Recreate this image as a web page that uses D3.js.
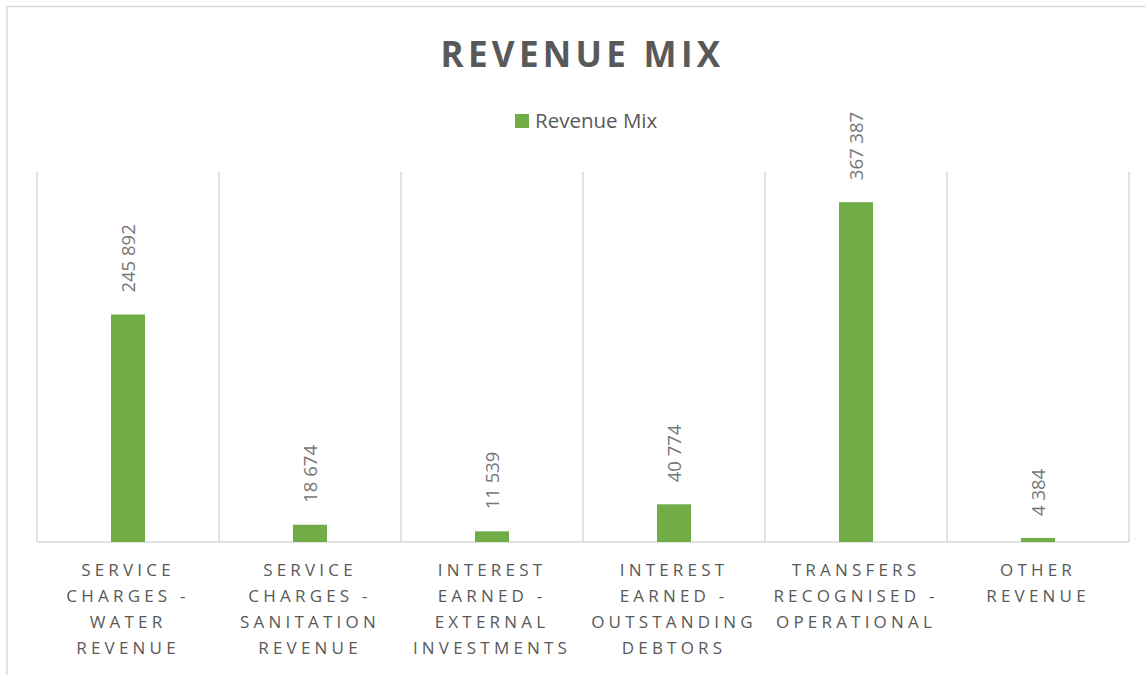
<!DOCTYPE html>
<html lang="en">
<head>
    <meta charset="UTF-8">
    <title>Revenue Mix</title>
    <script src="https://d3js.org/d3.v7.min.js"></script>
    <style>
        body {
            margin: 0;
            background: #fff;
            font-family: "Open Sans", sans-serif;
        }
        .tick-label {
            font-size: 17px;
            fill: #595959;
            letter-spacing: 4.2px;
        }
    </style>
</head>
<body>
    <div id="chart"></div>

    <script>
        // Data
        const categories = [
            "Service Charges - Water Revenue",
            "Service Charges - Sanitation Revenue",
            "Interest Earned - External Investments",
            "Interest Earned - Outstanding Debtors",
            "Transfers Recognised - Operational",
            "Other Revenue"
        ];
        const tickLines = [
            ["SERVICE", "CHARGES -", "WATER", "REVENUE"],
            ["SERVICE", "CHARGES -", "SANITATION", "REVENUE"],
            ["INTEREST", "EARNED -", "EXTERNAL", "INVESTMENTS"],
            ["INTEREST", "EARNED -", "OUTSTANDING", "DEBTORS"],
            ["TRANSFERS", "RECOGNISED -", "OPERATIONAL"],
            ["OTHER", "REVENUE"]
        ];
        const values = [245892, 18674, 11539, 40774, 367387, 4384];
        const seriesName = "Revenue Mix";

        const W = 1145, H = 675;
        const margin = { top: 172, right: 16, bottom: 133, left: 37 };
        const width = W - margin.left - margin.right;
        const height = H - margin.top - margin.bottom;

        const svg = d3.select("#chart")
            .append("svg")
            .attr("width", W)
            .attr("height", H);

        // chart frame (cropped at right/bottom)
        svg.append("line").attr("x1", 7).attr("x2", W).attr("y1", 6.5).attr("y2", 6.5)
            .attr("stroke", "#d9d9d9").attr("stroke-width", 1.5);
        svg.append("line").attr("x1", 7).attr("x2", 7).attr("y1", 6).attr("y2", H)
            .attr("stroke", "#d9d9d9").attr("stroke-width", 1.5);

        // Title
        svg.append("text")
            .attr("x", W / 2 + 10)
            .attr("y", 67)
            .attr("text-anchor", "middle")
            .style("font-size", "35px")
            .style("font-weight", "bold")
            .style("letter-spacing", "4.3px")
            .style("fill", "#595959")
            .text("REVENUE MIX");

        // Legend
        const legend = svg.append("g").attr("transform", "translate(515,114)");
        legend.append("rect").attr("width", 14).attr("height", 14).attr("fill", "#70ad47");
        legend.append("text").attr("x", 20).attr("y", 14)
            .style("font-size", "20.5px").style("fill", "#595959")
            .text(seriesName);

        const g = svg.append("g")
            .attr("transform", `translate(${margin.left},${margin.top})`);

        const x = d3.scaleBand()
            .domain(categories)
            .range([0, width])
            .paddingInner(0)
            .paddingOuter(0);

        const y = d3.scaleLinear()
            .domain([0, 400000])
            .range([height, 0]);

        // vertical grid lines at category boundaries
        const bounds = categories.map(c => x(c)).concat([width]);
        g.selectAll(".vgrid")
            .data(bounds)
            .enter()
            .append("line")
            .attr("class", "vgrid")
            .attr("x1", d => d).attr("x2", d => d)
            .attr("y1", 0).attr("y2", height)
            .attr("stroke", "#d9d9d9")
            .attr("stroke-width", 1.5);

        // baseline
        g.append("line")
            .attr("x1", 0).attr("x2", width)
            .attr("y1", height).attr("y2", height)
            .attr("stroke", "#d9d9d9")
            .attr("stroke-width", 1.5);

        const barW = 34;
        g.selectAll(".bar")
            .data(values)
            .enter()
            .append("rect")
            .attr("class", "bar")
            .attr("x", (d, i) => x(categories[i]) + x.bandwidth() / 2 - barW / 2)
            .attr("y", d => y(d))
            .attr("width", barW)
            .attr("height", d => height - y(d))
            .attr("fill", "#70ad47");

        // data labels
        const fmt = d3.formatLocale({ thousands: " ", grouping: [3], decimal: ".", currency: ["", ""] }).format(",d");
        g.selectAll(".val")
            .data(values)
            .enter()
            .append("text")
            .attr("class", "val")
            .attr("transform", (d, i) => `translate(${x(categories[i]) + x.bandwidth() / 2 + 7},${y(d) - 22}) rotate(-90)`)
            .attr("text-anchor", "start")
            .style("font-size", "18.5px")
            .style("fill", "#767676")
            .text(d => fmt(d));

        // category labels
        const ticks = g.selectAll(".tick-label")
            .data(tickLines)
            .enter()
            .append("text")
            .attr("class", "tick-label")
            .attr("text-anchor", "middle")
            .attr("transform", (d, i) => `translate(${x(categories[i]) + x.bandwidth() / 2},${height + 34})`);

        ticks.selectAll("tspan")
            .data(d => d)
            .enter()
            .append("tspan")
            .attr("x", 0)
            .attr("y", (d, i) => i * 26)
            .text(d => d);
    </script>
</body>
</html>
